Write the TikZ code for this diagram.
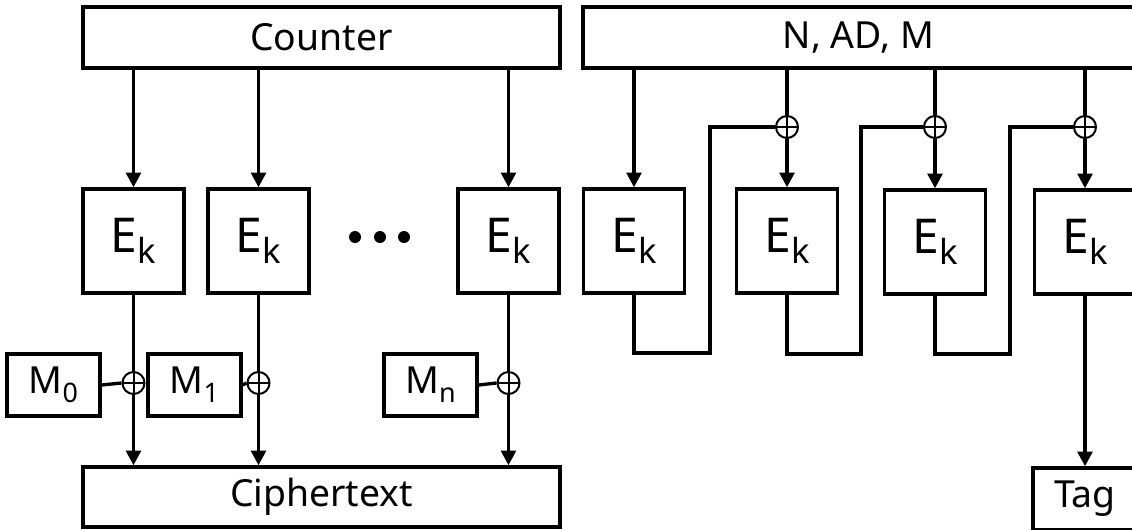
\documentclass[tikz,border=0pt]{standalone}
\usepackage{fontspec}
\setmainfont{Noto Sans}
\usetikzlibrary{arrows.meta}

\newcommand\lowsub[1]{\raisebox{-0.24em}{\scalebox{0.72}{#1}}}

\tikzset{every picture/.style={line width=2.5pt}}
\tikzset{
  blk/.style={draw, rectangle, inner sep=0pt, line width=2.5pt, font=\fontsize{28}{30}\selectfont},
  ekbox/.style={blk, minimum width=75.75pt, minimum height=78pt, font=\fontsize{36}{38}\selectfont},
  msgbox/.style={blk, minimum width=69.75pt, minimum height=46.5pt, font=\fontsize{28}{30}\selectfont},
  xor/.style={circle, draw, fill=white, line width=1.5pt, minimum size=16.5pt, inner sep=0pt,
    path picture={\draw[line width=1.5pt] (path picture bounding box.north) -- (path picture bounding box.south)
      (path picture bounding box.west) -- (path picture bounding box.east);}},
  flow/.style={-{Triangle[width=11pt,length=11pt]}}
}

\begin{document}
\begin{tikzpicture}[x=0.75pt,y=0.75pt,yscale=-1,xscale=1]
\useasboundingbox (0,0) rectangle (1132,529);
\clip (0,0) rectangle (1132,529);

% counter mode
\draw (321.5,37.5) node [blk, minimum width=357.75pt, minimum height=45.75pt] (counter) {Counter};
\draw (133.5,241) node [ekbox] (ek1) {E\lowsub{k}};
\draw (258.5,241) node [ekbox] (ek2) {E\lowsub{k}};
\draw (508.5,241) node [ekbox] (ekn) {E\lowsub{k}};
\fill (355,237) circle (4.5pt) (380,237) circle (4.5pt) (404,237) circle (4.5pt);
\draw (53.5,385) node [msgbox] (m0) {M\lowsub{0}};
\draw (194.5,385) node [msgbox] (m1) {M\lowsub{1}};
\draw (430.5,385) node [msgbox] (mn) {M\lowsub{n}};
\draw (133.5,383) node [xor] (x1) {};
\draw (258.5,383) node [xor] (x2) {};
\draw (508.5,383) node [xor] (xn) {};
\draw (321.5,497) node [blk, minimum width=357.75pt, minimum height=45pt] (cipher) {Ciphertext};

\draw [flow] (ek1.north |- counter.south) -- (ek1.north);
\draw [flow] (ek2.north |- counter.south) -- (ek2.north);
\draw [flow] (ekn.north |- counter.south) -- (ekn.north);
\draw (ek1.south) -- (x1.north);
\draw (ek2.south) -- (x2.north);
\draw (ekn.south) -- (xn.north);
\draw (m0.east) -- (x1.west);
\draw (m1.east) -- (x2.west);
\draw (mn.east) -- (xn.west);
\draw [flow] (x1.south) -- (x1.south |- cipher.north);
\draw [flow] (x2.south) -- (x2.south |- cipher.north);
\draw [flow] (xn.south) -- (xn.south |- cipher.north);

% mac chain
\draw (858.5,37.5) node [blk, minimum width=413.25pt, minimum height=45.75pt] (nadm) {N, AD, M};
\draw (634,241) node [ekbox] (r1) {E\lowsub{k}};
\draw (787,241) node [ekbox] (r2) {E\lowsub{k}};
\draw (935,242) node [ekbox] (r3) {E\lowsub{k}};
\draw (1085,242) node [ekbox] (r4) {E\lowsub{k}};
\draw (787,127) node [xor] (y2) {};
\draw (935,127) node [xor] (y3) {};
\draw (1085,127) node [xor] (y4) {};
\draw (1085,499) node [blk, minimum width=78pt, minimum height=46.5pt] (tag) {Tag};
\coordinate (b1) at (710,353);
\coordinate (b2) at (861,354);
\coordinate (b3) at (1010,354);

\draw [flow] (r1.north |- nadm.south) -- (r1.north);
\draw (y2.north |- nadm.south) -- (y2.north);
\draw (y3.north |- nadm.south) -- (y3.north);
\draw (y4.north |- nadm.south) -- (y4.north);
\draw [flow] (y2.south) -- (r2.north);
\draw [flow] (y3.south) -- (r3.north);
\draw [flow] (y4.south) -- (r4.north);
\draw (r1.south) |- (b1) |- (y2.west);
\draw (r2.south) |- (b2) |- (y3.west);
\draw (r3.south) |- (b3) |- (y4.west);
\draw [flow] (r4.south) -- (tag.north);
\end{tikzpicture}
\end{document}
